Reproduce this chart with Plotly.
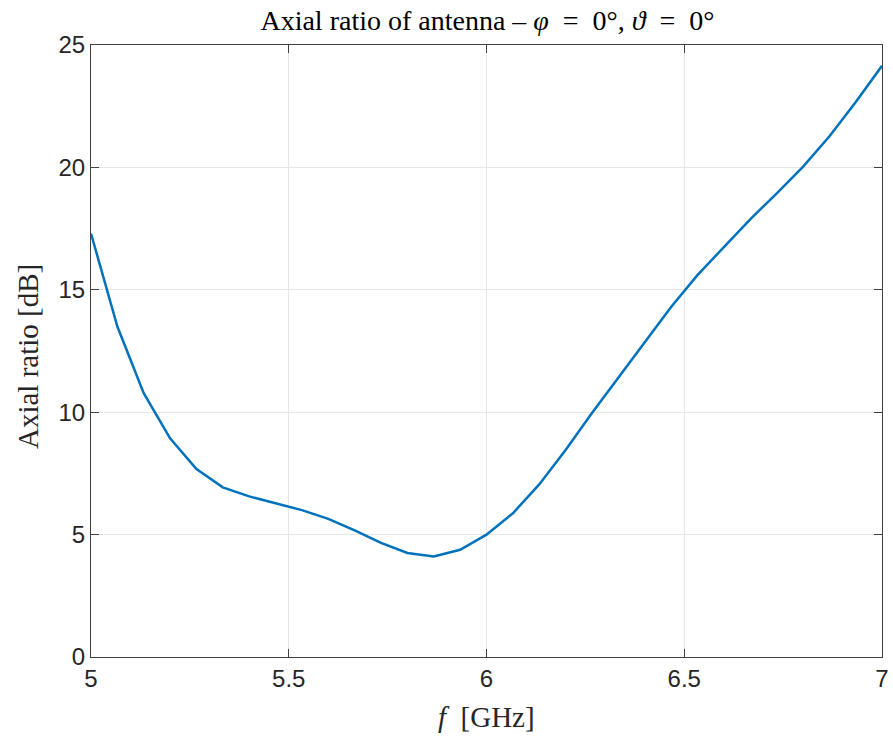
import plotly.graph_objects as go

freq_ghz = [5.0, 5.0667, 5.1333, 5.2, 5.2667, 5.3333, 5.4, 5.4667, 5.5333, 5.6,
            5.6667, 5.7333, 5.8, 5.8667, 5.9333, 6.0, 6.0667, 6.1333, 6.2, 6.2667,
            6.3333, 6.4, 6.4667, 6.5333, 6.6, 6.6667, 6.7333, 6.8, 6.8667, 6.9333, 7.0]
axial_ratio_db = [17.3, 13.5, 10.78, 8.93, 7.68, 6.93, 6.56, 6.28, 6.0, 5.64,
                  5.17, 4.66, 4.25, 4.11, 4.38, 5.0, 5.87, 7.05, 8.46, 9.97,
                  11.42, 12.85, 14.3, 15.6, 16.75, 17.88, 18.93, 20.02, 21.26, 22.66, 24.15]
x_ticks = [5, 5.5, 6, 6.5, 7]
x_tick_labels = ["5", "5.5", "6", "6.5", "7"]
y_ticks = [0, 5, 10, 15, 20, 25]

fig = go.Figure()
fig.add_trace(go.Scatter(x=freq_ghz, y=axial_ratio_db, mode="lines",
                         line=dict(color="#0072BD", width=2.5), showlegend=False))

axis_common = dict(showline=True, linecolor="#404040", linewidth=1, mirror="allticks",
                   ticks="inside", ticklen=8, tickcolor="#404040", automargin=False,
                   showgrid=True, gridcolor="#E6E6E6", gridwidth=1, zeroline=False,
                   tickfont=dict(family="Liberation Sans, Arial", size=24, color="#262626"))

label_font = dict(family="Liberation Serif, serif", size=29, color="#262626")

fig.update_xaxes(range=[5, 7], tickvals=x_ticks, ticktext=x_tick_labels, **axis_common)
fig.update_yaxes(range=[0, 25], tickvals=y_ticks, **axis_common)

fig.update_layout(
    width=893, height=736,
    margin=dict(l=91, r=11, t=45, b=79),
    paper_bgcolor="white", plot_bgcolor="white",
    title=dict(text="Axial ratio of antenna – <i>φ</i>  =  0°, <i>ϑ</i>  =  0°",
               font=dict(family="Liberation Serif, serif", size=28, color="black"),
               x=487.5 / 893, xanchor="center", y=1 - 20 / 736, yanchor="middle"),
    annotations=[
        dict(text="<i>f</i>  [GHz]", xref="paper", yref="paper",
             x=0.5, y=-(717 - 657) / 612, xanchor="center", yanchor="middle",
             showarrow=False, font=label_font),
        dict(text="Axial ratio [dB]", xref="paper", yref="paper", textangle=-90,
             x=-(91 - 28) / 791, y=(657 - 357) / 612, xanchor="center", yanchor="middle",
             showarrow=False, font=label_font),
    ],
)

fig.write_html("out.html")
